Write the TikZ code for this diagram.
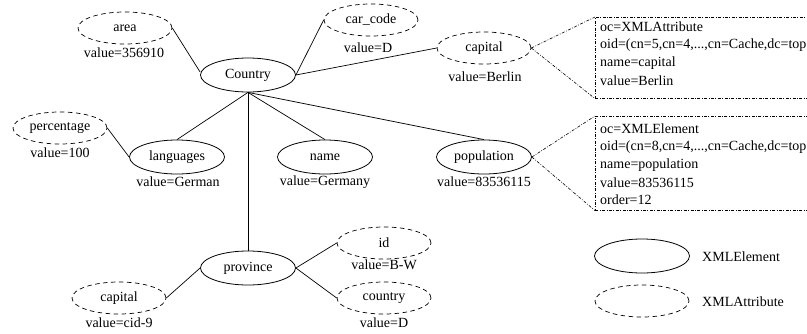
\documentclass[tikz,border=0pt]{standalone}
\usepackage{fontspec}
\setmainfont{Liberation Serif}
\usetikzlibrary{shapes.geometric}
\begin{document}
\begin{tikzpicture}[x=1pt,y=-1pt,
  every node/.style={font=\fontsize{14}{17}\selectfont},
  elem/.style={ellipse,draw,line width=0.8pt,minimum width=95pt,minimum height=34pt,inner sep=0pt},
  attr/.style={ellipse,draw,line width=0.7pt,dash pattern=on 4.5pt off 3.5pt,minimum width=94pt,minimum height=32pt,inner sep=0pt},
  val/.style={inner sep=0pt},
  link/.style={line width=0.7pt},
  dd/.style={line width=0.6pt,dash pattern=on 3pt off 1.5pt on 0.8pt off 1.5pt},
  infobox/.style={draw,dd,anchor=north west,inner sep=0pt,minimum width=240pt},
  boxline/.style={anchor=west,inner sep=0pt}
]
\useasboundingbox (0,0) rectangle (807,333);
\clip (0,0) rectangle (807,333);

% element nodes
\node[elem] (country) at (248,75) {Country};
\node[elem] (languages) at (177,157) {languages};
\node[elem] (name) at (325,157) {name};
\node[elem] (population) at (484,157) {population};
\node[elem] (province) at (248,268) {province};

% attribute nodes
\node[attr] (area) at (125,28) {area};
\node[val] (areav) at (124,53) {value=356910};
\node[attr] (carcode) at (371,20) {car\_code};
\node[val] (carcodev) at (368,48) {value=D};
\node[attr] (capital) at (484,48) {capital};
\node[val] (capitalv) at (485,77) {value=Berlin};
\node[attr] (percentage) at (60,128) {percentage};
\node[val] (percentagev) at (60,153) {value=100};
\node[val] (languagesv) at (178,182) {value=German};
\node[val] (namev) at (325,182) {value=Germany};
\node[val] (populationv) at (484,182) {value=83536115};
\node[attr] (pcapital) at (119,298) {capital};
\node[val] (pcapitalv) at (119,323) {value=cid-9};
\node[attr] (pid) at (384,243) {id};
\node[val] (pidv) at (384,265) {value=B-W};
\node[attr] (pcountry) at (384,298) {country};
\node[val] (pcountryv) at (384,323) {value=D};

% connectors
\draw[link] (country.west) ++(0,-3) coordinate (cw) (cw) -- (area.east);
\draw[link] (country.east) -- (carcode.west);
\draw[link] (country.east) -- (capital.west);
\draw[link] (country.south) -- (languages.north);
\draw[link] (country.south) -- (name.north);
\draw[link] (country.south) -- (population.north);
\draw[link] (country.south) -- (province.north);
\draw[link] (percentage.east) -- (languages.west);
\draw[link] (province.west) -- (pcapital.east);
\draw[link] (province.east) -- (pid.west);
\draw[link] (province.east) -- (pcountry.west);

% info boxes
\node[infobox,minimum height=81pt] (box1) at (595,17) {};
\node[boxline] (b1l1) at (600,27) {oc=XMLAttribute};
\node[boxline] (b1l2) at (600,45) {oid=(cn=5,cn=4,...,cn=Cache,dc=top};
\node[boxline] (b1l3) at (600,63) {name=capital};
\node[boxline] (b1l4) at (600,81) {value=Berlin};
\draw[dd] (capital.east) -- (box1.north west);
\draw[dd] (capital.east) -- (box1.south west);

\node[infobox,minimum height=94pt] (box2) at (595,116) {};
\node[boxline] (b2l1) at (600,129) {oc=XMLElement};
\node[boxline] (b2l2) at (600,147) {oid=(cn=8,cn=4,...,cn=Cache,dc=top};
\node[boxline] (b2l3) at (600,165) {name=population};
\node[boxline] (b2l4) at (600,183) {value=83536115};
\node[boxline] (b2l5) at (600,200) {order=12};
\draw[dd] (population.east) -- (box2.north west);
\draw[dd] (population.east) -- (box2.south west);

% legend
\node[elem] (legelem) at (642,256) {};
\node[boxline] (legelemt) at (702,257) {XMLElement};
\node[attr] (legattr) at (642,301) {};
\node[boxline] (legattrt) at (702,302) {XMLAttribute};
\end{tikzpicture}
\end{document}
